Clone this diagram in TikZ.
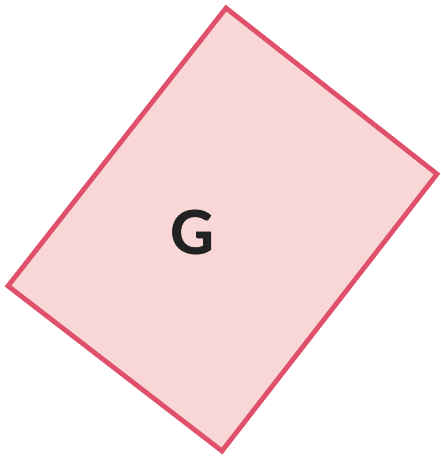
\documentclass[tikz,border=0pt]{standalone}
\usepackage{fontspec}
\setmainfont{Lato}
\newfontfamily\gfont[FakeBold=1.2]{Lato}
\definecolor{edgered}{HTML}{E0506A}
\definecolor{fillpink}{HTML}{F8D7D6}
\definecolor{txt}{HTML}{222222}
\begin{document}
\begin{tikzpicture}[x=1pt,y=-1pt,
  shapebox/.style={draw=edgered,fill=fillpink,line width=4.8pt,line join=miter},
  lbl/.style={text=txt,font=\gfont\bfseries\fontsize{60}{60}\selectfont,inner sep=0pt}]
\useasboundingbox (0,0) rectangle (441,456);
\coordinate (t) at (226,8);
\coordinate (r) at (437,174);
\coordinate (b) at (222,451);
\coordinate (l) at (8,286);
\draw[shapebox] (t) -- (r) -- (b) -- (l) -- cycle;
\node[lbl] (g) at (192,232) {G};
\end{tikzpicture}
\end{document}
